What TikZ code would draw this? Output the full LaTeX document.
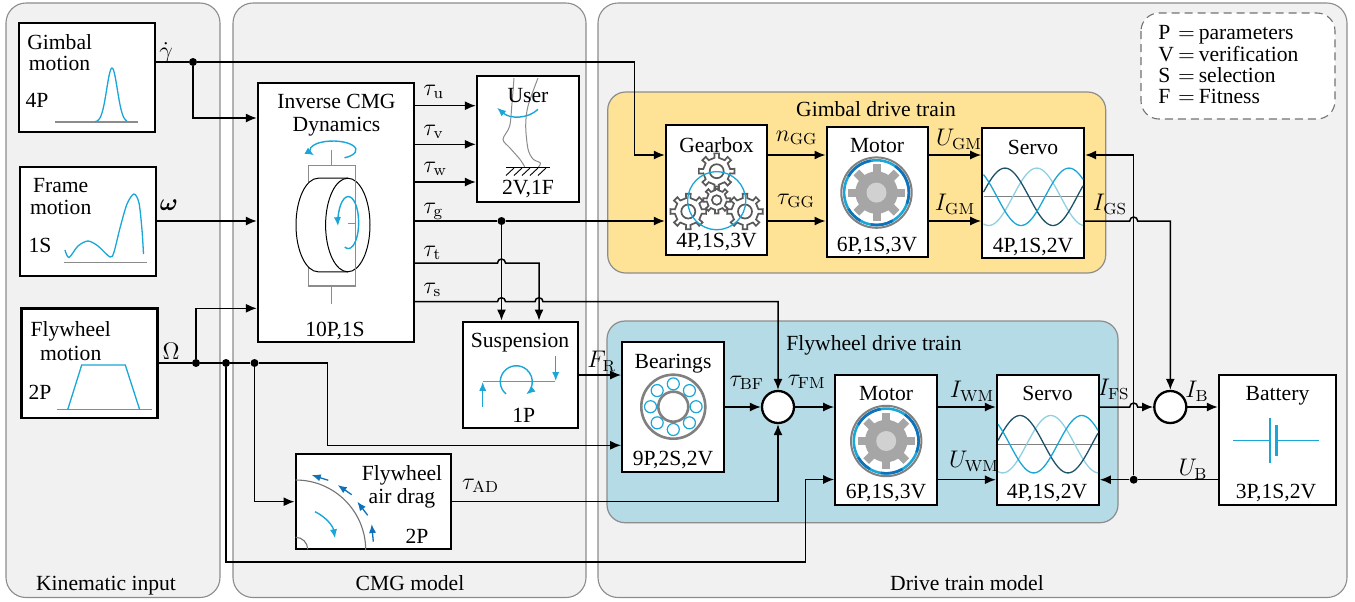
\documentclass[tikz,border=0pt]{standalone}
\usepackage{amsmath}
\usepackage{fix-cm}
\usepackage[no-math]{fontspec}
\setmainfont{Liberation Serif}
\usetikzlibrary{arrows.meta,calc}
\definecolor{panelfill}{HTML}{F1F1F1}
\definecolor{panelline}{HTML}{8C8C8C}
\definecolor{gimbalfill}{HTML}{FEE397}
\definecolor{flyfill}{HTML}{B5DBE7}
\definecolor{iconcyan}{HTML}{1AA7D8}
\definecolor{icondark}{HTML}{0D72BA}
\definecolor{wavedark}{HTML}{1E5268}
\definecolor{wavelight}{HTML}{8FD1E3}
\definecolor{gearline}{HTML}{595959}
\tikzset{
  panel/.style={draw=panelline,line width=.55pt,fill=panelfill,rounded corners=10pt},
  trainbox/.style={draw=panelline,line width=.6pt,rounded corners=9pt},
  blockbox/.style={draw=black,line width=1.15pt,fill=white,inner sep=0pt,rectangle},
  sumnode/.style={draw=black,line width=1.15pt,fill=white,circle,inner sep=0pt,minimum size=16pt},
  jdot/.style={fill=black,circle,inner sep=0pt,minimum size=4pt},
  wire/.style={draw=black,line width=.75pt},
  tip/.style={-{Latex[length=5.5pt,width=4.5pt]}},
  txt/.style={inner sep=0pt,text height=7pt,text depth=0pt,font=\fontsize{10.8}{12}\selectfont},
  legendtxt/.style={inner sep=0pt,font=\fontsize{10.8}{10.5}\selectfont},
  mlab/.style={inner sep=0pt,font=\fontsize{12}{14}\selectfont},
  icon/.style={draw=iconcyan,line width=.65pt},
  iconarrow/.style={draw=iconcyan,line width=.7pt,-{Latex[length=4.5pt,width=3.6pt]},fill=none},
  blueup/.style={draw=icondark,line width=.65pt,-{Latex[length=4.5pt,width=3.6pt]}},
  greyline/.style={draw=black!45,line width=.55pt},
  gearstroke/.style={draw=gearline,line width=.85pt},
}
\newcommand{\blk}[5]{\node[blockbox,minimum width={(#4-#2)*0.5pt},minimum height={(#5-#3)*0.5pt}] (#1) at ({(#2+#4)/2},{(#3+#5)/2}) {};}
% gear outline: x, y, teeth, outer radius, root radius, hole radius
\newcommand{\gearicon}[6]{%
 \begin{scope}[shift={(#1,#2)}]
  \pgfmathsetmacro\gs{360/#3}
  \draw[gearstroke] ({-.2*\gs}:#5pt) \foreach \i in {1,...,#3}{ -- ({(\i-1-.17)*\gs}:#4pt) -- ({(\i-1+.17)*\gs}:#4pt) -- ({(\i-1+.2)*\gs}:#5pt) -- ({(\i-1+.8)*\gs}:#5pt)} -- cycle;
  \draw[gearstroke] (0,0) circle[radius=#6pt];
 \end{scope}}
% motor symbol
\newcommand{\motoricon}[2]{%
 \begin{scope}[shift={(#1,#2)}]
  \draw[draw=black!50,line width=1pt,fill=white] (0,0) circle[radius=17.6pt];
  \draw[draw=iconcyan,line width=1.3pt] (0,0) circle[radius=16.2pt];
  \draw[draw=icondark,line width=1.3pt] (100:16.2pt) arc[start angle=100,end angle=150,radius=16.2pt];
  \draw[draw=icondark,line width=1.3pt] (-20:16.2pt) arc[start angle=-20,end angle=55,radius=16.2pt];
  \draw[draw=icondark,line width=1.3pt] (-100:16.2pt) arc[start angle=-100,end angle=-60,radius=16.2pt];
  \draw[draw=icondark,line width=1.3pt] (210:16.2pt) arc[start angle=210,end angle=240,radius=16.2pt];
  \pgfmathsetmacro\gs{45}
  \fill[black!35] (0,0) circle[radius=10.6pt];
  \foreach \a in {0,45,...,315}{\fill[black!35,rotate=\a] (8pt,-2pt) rectangle +(6.2pt,4pt);}
  \fill[black!18] (0,0) circle[radius=5pt];
 \end{scope}}
% three phase waves: xleft, xright, ymid, peak1, peak2, peak3
\newcommand{\waves}[6]{%
 \draw[draw=black!50,line width=.55pt] (#1,#3) -- (#2,#3);
 \draw[draw=wavelight,line width=.65pt] plot[domain=#1:#2,samples=70] (\x,{#3-28.7*cos(3.75*(\x-#5))});
 \draw[draw=wavedark,line width=.65pt] plot[domain=#1:#2,samples=70] (\x,{#3-28.7*cos(3.75*(\x-#4))});
 \draw[draw=iconcyan,line width=.65pt] plot[domain=#1:#2,samples=70] (\x,{#3-28.7*cos(3.75*(\x-#6))});
}
\begin{document}
\begin{tikzpicture}[x=0.5pt,y=-0.5pt]
\useasboundingbox (0,0) rectangle (1355,601);
% panels
\draw[panel] (6,3) rectangle (220,597.5);
\draw[panel] (233,3) rectangle (586,597.5);
\draw[panel] (598,3) rectangle (1347,597.5);
\draw[trainbox,fill=gimbalfill] (607.7,92) rectangle (1105.7,273);
\draw[trainbox,fill=flyfill] (607,321) rectangle (1118,522.7);
\draw[draw=black!55,line width=.55pt,dashed,dash pattern=on 4pt off 2.5pt,fill=white,rounded corners=9pt] (1141,13) rectangle (1335,119);
\node[legendtxt,anchor=west] (legend) at (1158,67.5) {\begin{tabular}{@{}l@{\hspace{2pt}$=$\hspace{2pt}}l@{}}P&parameters\\V&verification\\S&selection\\F&Fitness\end{tabular}};
\node[txt] (tkin) at (106,583) {Kinematic input};
\node[txt] (tcmg) at (410,583) {CMG model};
\node[txt] (tdrv) at (967,583) {Drive train model};
\node[txt] (tgim) at (876,109) {Gimbal drive train};
\node[txt] (tfly) at (874,343) {Flywheel drive train};
% blocks
\blk{gm}{19}{23}{155}{132}
\blk{fm}{20}{167}{156}{276}
\blk{wm}{21.5}{308.5}{157.5}{418}
\blk{cmg}{258}{83}{414}{341.7}
\blk{usr}{477}{76}{578.7}{201.7}
\blk{sus}{462.7}{321.7}{578}{427.7}
\blk{air}{295.7}{454.3}{451}{549.3}
\blk{brg}{622.3}{342.3}{723.7}{472}
\blk{gbx}{666}{125}{767}{255}
\blk{mg}{826.7}{126.7}{928}{257.3}
\blk{sg}{982.3}{128}{1084}{258}
\blk{mf}{835.3}{375.3}{936.7}{505.3}
\blk{sf}{997}{375}{1098.7}{505}
\blk{bat}{1219}{375}{1335.7}{505}
\node[sumnode] (s1) at (778,407) {};
\node[sumnode] (s2) at (1170.3,407) {};
% junctions
\node[jdot] (dg) at (193,62) {};
\node[jdot] (dw1) at (196,363) {};
\node[jdot] (dw2) at (226,363) {};
\node[jdot] (dw3) at (254.5,363) {};
\node[jdot] (dt) at (501.5,221) {};
\node[jdot] (du) at (1133.7,479.7) {};
% levels
\coordinate (y118) at (0,118);
\coordinate (y155) at (0,155);
\coordinate (y221) at (0,221);
\coordinate (y308) at (0,308.3);
\coordinate (y106) at (0,105.7);
\coordinate (y144) at (0,144.3);
\coordinate (y182) at (0,182);
\coordinate (y263) at (0,263);
\coordinate (y302) at (0,301.7);
\coordinate (y375) at (0,375);
\coordinate (y445) at (0,445.3);
\coordinate (y479) at (0,479.5);
\coordinate (y502) at (0,501.7);
\coordinate (x539) at (539,0);
% wires
\draw[wire] (gm.east |- dg) -- (dg);
\draw[wire,tip] (dg) -- (634.5,62) -- (634.5,155) -- (gbx.west |- y155);
\draw[wire,tip] (dg) -- (193,118) -- (cmg.west |- y118);
\draw[wire,tip] (fm.east |- y221) -- (cmg.west |- y221);
\draw[wire] (wm.east |- dw1) -- (dw1);
\draw[wire] (dw1) -- (dw2);
\draw[wire] (dw2) -- (dw3);
\draw[wire,tip] (dw1) -- (196,308.3) -- (cmg.west |- y308);
\draw[wire,tip] (dw3) -- (327.5,363) -- (327.5,445.3) -- (brg.west |- y445);
\draw[wire,tip] (dw3) -- (254.5,501.7) -- (air.west |- y502);
\draw[wire,tip] (dw2) -- (226,562) -- (805.7,562) -- (805.7,479.5) -- (mf.west |- y479);
\draw[wire,tip] (cmg.east |- y106) -- (usr.west |- y106);
\draw[wire,tip] (cmg.east |- y144) -- (usr.west |- y144);
\draw[wire,tip] (cmg.east |- y182) -- (usr.west |- y182);
\draw[wire] (cmg.east |- dt) -- (dt);
\draw[wire,tip] (dt) -- (gbx.west |- dt);
\draw[wire,tip] (dt) -- (dt |- sus.north);
\draw[wire,tip] (cmg.east |- y263) -- (497.5,263) arc[start angle=180,end angle=0,radius=2pt] -- (539,263) -- (x539 |- sus.north);
\draw[wire,tip] (cmg.east |- y302) -- (497.5,301.7) arc[start angle=180,end angle=0,radius=2pt] -- (535,301.7) arc[start angle=180,end angle=0,radius=2pt] -- (778,301.7) -- (s1.north);
\draw[wire,tip] (sus.east |- y375) -- (brg.west |- y375);
\draw[wire,tip] (brg.east |- s1) -- (s1.west);
\draw[wire,tip] (s1.east) -- (mf.west |- s1);
\draw[wire,tip] (air.east |- y502) -- (778,501.7) -- (s1.south);
\draw[wire,tip] (gbx.east |- y155) -- (mg.west |- y155);
\draw[wire,tip] (gbx.east |- y221) -- (mg.west |- y221);
\draw[wire,tip] (mg.east |- y155) -- (sg.west |- y155);
\draw[wire,tip] (mg.east |- y221) -- (sg.west |- y221);
\draw[wire,tip] (sg.east |- y221) -- (1129.7,221) arc[start angle=180,end angle=0,radius=2pt] -- (1170.3,221) -- (s2.north);
\draw[wire] (bat.west |- du) -- (du);
\draw[wire,tip] (du) -- (sf.east |- du);
\draw[wire,tip] (du) -- (1133.7,155) -- (sg.east |- y155);
\draw[wire,tip] (mf.east |- s1) -- (sf.west |- s1);
\draw[wire,tip] (mf.east |- du) -- (sf.west |- du);
\draw[wire,tip] (sf.east |- s2) -- (1129.7,407) arc[start angle=180,end angle=0,radius=2pt] -- (s2.west);
\draw[wire,tip] (s2.east) -- (bat.west |- s2);
% icons first, so that the texts lie over them
% motion curves
\draw[greyline] (55,122) -- (138,122);
\draw[icon] plot[domain=95:127,samples=50] (\x,{122-54*exp(-pow((\x-112)/7.5,2))});
\draw[greyline] (64,262.5) -- (147,262.5);
\draw[icon] plot[smooth] coordinates {(65,250) (69,257.5) (78,246) (88,241) (98,246) (110,257) (114,252) (120,228) (127,204) (134,194) (139,203) (142,230) (143.5,254)};
\draw[greyline] (57,409.7) -- (152,409.7);
\draw[icon] (67.7,409.7) -- (81.7,365) -- (125.3,365) -- (139.7,409.7);
% CMG icon
\draw[greyline] (331.7,150) -- (331.7,165.7);
\draw[greyline] (331.7,286) -- (331.7,304);
\draw[greyline] (308.3,165.7) rectangle (355.7,286);
\fill[white] (318.2,178.2) -- (347.8,178.2) arc[start angle=90,end angle=-90,x radius=11.1pt,y radius=23.4pt] -- (318.2,271.8) arc[start angle=270,end angle=90,x radius=11.1pt,y radius=23.4pt] -- cycle;
\draw[black,line width=.5pt] (347.8,178.2) -- (318.2,178.2) arc[start angle=90,end angle=270,x radius=11.1pt,y radius=23.4pt] -- (347.8,271.8);
\draw[black,line width=.5pt] (347.8,225) ellipse[x radius=11.1pt,y radius=23.4pt];
\draw[greyline] (355.7,178.2) -- (355.7,271.8);
\draw[greyline] (347.7,223.3) -- (355.7,223.3);
\draw[iconarrow] (344.5,157.8) arc[start angle=-60,end angle=215,x radius=11.5pt,y radius=4.5pt];
\draw[iconarrow] (344.7,247) arc[start angle=-110,end angle=188,x radius=5.2pt,y radius=13pt];
% user icon
\draw[draw=black!45,line width=.5pt] plot[smooth] coordinates {(514,78) (512,103) (509.7,126) (503,139.3) (509.7,147.7) (519.7,159) (524.7,166.7)};
\draw[draw=black!45,line width=.5pt] plot[smooth] coordinates {(538,78) (528,106) (525.7,126) (528,149) (533,159) (540.3,163) (538,167.7)};
\draw[black,line width=.6pt] (506.3,167.7) -- (549.7,167.7);
\foreach \x in {514,522,530,538,546}{\draw[black,line width=.45pt] (\x,168) -- ({\x-8},175.5);}
\draw[iconarrow] (538,109.3) .. controls (528,119) and (510,119) .. (497,107.7);
% suspension icon
\draw[greyline] (482.7,381.3) -- (555,381.3);
\draw[iconarrow] (482.7,406.7) -- (482.7,381.8);
\draw[iconarrow] (555.7,355.7) -- (555.7,381);
\draw[iconarrow] (506,394) arc[start angle=230,end angle=-52,radius=8pt];
% air drag icon
\draw[draw=black!55,line width=.55pt] (295.7,480) arc[start angle=90,end angle=0,radius=35pt];
\draw[draw=black!55,line width=.55pt] (295.7,537.3) arc[start angle=90,end angle=0,radius=6pt];
\draw[blueup] (328.3,480.3) -- (311.7,475);
\draw[blueup] (351.7,494.7) -- (337.7,485);
\draw[blueup] (367.7,515.3) -- (357.3,501.7);
\draw[blueup] (373.3,541.7) -- (371.7,524);
\draw[iconarrow] (315,511.7) .. controls (326,517) and (333,526) .. (335,538.3);
% bearing icon
\draw[draw=black!50,line width=1.3pt] (673.3,406.7) circle[radius=16pt];
\draw[draw=black!50,line width=1.3pt] (673.3,406.7) circle[radius=7.5pt];
\foreach \a in {0,45,...,315}{\draw[draw=iconcyan,line width=.6pt,fill=white] ($(673.3,406.7)+(\a:11.4pt)$) circle[radius=3pt];}
% gear icons
\gearicon{716.7}{171.2}{8}{9}{6.8}{3.5}
\gearicon{688.3}{211.5}{8}{9}{6.8}{3.5}
\gearicon{745}{211.5}{8}{9}{6.8}{3.5}
\gearicon{716.7}{200}{8}{6.8}{5}{2.4}
\draw[icon] (716.7,200.7) circle[radius=14.5pt];
\motoricon{876.5}{192.6}
\motoricon{886.2}{441}
% servo waves
\waves{983.5}{1083}{196.8}{1005}{1036.7}{1069}
\waves{998}{1098}{444.2}{1020}{1050.7}{1081.7}
% battery
\draw[draw=iconcyan,line width=.75pt] (1233.3,440.3) -- (1270,440.3);
\draw[draw=iconcyan,line width=.75pt] (1276.7,440.3) -- (1319.3,440.3);
\draw[draw=iconcyan,line width=.75pt] (1270,418.3) -- (1270,462.7);
\draw[draw=iconcyan,line width=1.7pt] (1276.7,425) -- (1276.7,456);
% block texts
\node[txt] (t1) at (59.7,42) {Gimbal};
\node[txt] (t2) at (59.5,63) {motion};
\node[txt] (t3) at (37,100) {4P};
\node[txt] (t4) at (60.7,185) {Frame};
\node[txt] (t5) at (60.7,207) {motion};
\node[txt] (t6) at (40,245) {1S};
\node[txt] (t7) at (70.7,329) {Flywheel};
\node[txt] (t8) at (70.7,353) {motion};
\node[txt] (t9) at (40,392) {2P};
\node[txt] (t10) at (336.5,101) {Inverse CMG};
\node[txt] (t11) at (336.5,124) {Dynamics};
\node[txt] (t12) at (335,329) {10P,1S};
\node[txt] (t13) at (528,95) {User};
\node[txt] (t14) at (528,187) {2V,1F};
\node[txt] (t15) at (520,340) {Suspension};
\node[txt] (t16) at (523.7,415) {1P};
\node[txt] (t17) at (402,473) {Flywheel};
\node[txt] (t18) at (402,496.5) {air drag};
\node[txt] (t19) at (417,536) {2P};
\node[txt] (t20) at (673,361) {Bearings};
\node[txt] (t21) at (673,458) {9P,2S,2V};
\node[txt] (t22) at (716.5,145) {Gearbox};
\node[txt] (t23) at (716.5,240) {4P,1S,3V};
\node[txt] (t24) at (877,145) {Motor};
\node[txt] (t25) at (877,244) {6P,1S,3V};
\node[txt] (t26) at (1033,147) {Servo};
\node[txt] (t27) at (1033,245) {4P,1S,2V};
\node[txt] (t28) at (886,393) {Motor};
\node[txt] (t29) at (886,491) {6P,1S,3V};
\node[txt] (t30) at (1047.5,393) {Servo};
\node[txt] (t31) at (1047,491) {4P,1S,2V};
\node[txt] (t32) at (1277.5,393) {Battery};
\node[txt] (t33) at (1276,491) {3P,1S,2V};
% math labels
\node[mlab] (m1) at (166,53) {$\dot\gamma$};
\node[mlab] (m2) at (169,205) {$\boldsymbol{\omega}$};
\node[mlab] (m3) at (171,351) {$\Omega$};
\node[mlab,anchor=base west] (m4) at (423,95) {$\tau_{\mathrm{u}}$};
\node[mlab,anchor=base west] (m5) at (423,135) {$\tau_{\mathrm{v}}$};
\node[mlab,anchor=base west] (m6) at (423,172) {$\tau_{\mathrm{w}}$};
\node[mlab,anchor=base west] (m7) at (423,213) {$\tau_{\mathrm{g}}$};
\node[mlab,anchor=base west] (m8) at (423,256) {$\tau_{\mathrm{t}}$};
\node[mlab,anchor=base west] (m9) at (423,293) {$\tau_{\mathrm{s}}$};
\node[mlab] (m10) at (796.7,138) {$n_{\mathrm{GG}}$};
\node[mlab] (m11) at (796,201) {$\tau_{\mathrm{GG}}$};
\node[mlab] (m12) at (959,139) {$U_{\mathrm{GM}}$};
\node[mlab] (m13) at (955,204) {$I_{\mathrm{GM}}$};
\node[mlab] (m14) at (1110,204) {$I_{\mathrm{GS}}$};
\node[mlab] (m15) at (746.7,383) {$\tau_{\mathrm{BF}}$};
\node[mlab] (m16) at (806.7,382) {$\tau_{\mathrm{FM}}$};
\node[mlab] (m17) at (601.7,361) {$F_{\mathrm{R}}$};
\node[mlab] (m18) at (480.7,486) {$\tau_{\mathrm{AD}}$};
\node[mlab] (m19) at (972,391) {$I_{\mathrm{WM}}$};
\node[mlab] (m20) at (974,461) {$U_{\mathrm{WM}}$};
\node[mlab] (m21) at (1113.7,389) {$I_{\mathrm{FS}}$};
\node[mlab] (m22) at (1197,391) {$I_{\mathrm{B}}$};
\node[mlab] (m23) at (1193,469) {$U_{\mathrm{B}}$};
\end{tikzpicture}
\end{document}
